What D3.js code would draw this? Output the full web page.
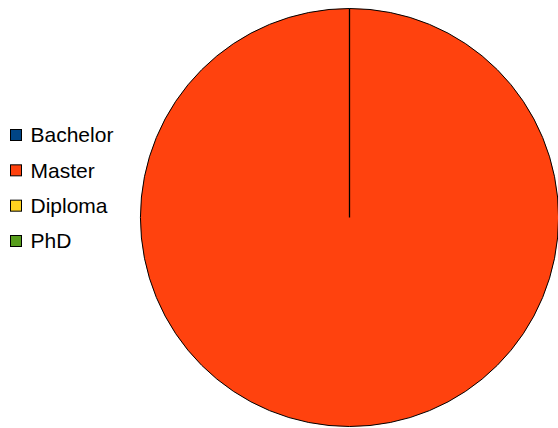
<!DOCTYPE html>
<html><head><meta charset="utf-8">
<script src="https://cdn.jsdelivr.net/npm/d3@7"></script>
<style>html,body{margin:0;padding:0;background:#fff;overflow:hidden}</style>
</head><body>
<svg id="chart" width="558" height="428"></svg>
<script>
const categories = ["Bachelor", "Master", "Diploma", "PhD"];
const values = [0, 100, 0, 0];
const colors = ["#004586", "#ff420e", "#ffd320", "#579d1c"];

const svg = d3.select("#chart");
const cx = 349.5, cy = 217.5, r = 209;

const pie = d3.pie().sort(null).value(d => d)(values);
const arc = d3.arc().innerRadius(0).outerRadius(r);
const color = d3.scaleOrdinal().domain(categories).range(colors);

const g = svg.append("g").attr("transform", `translate(${cx},${cy})`);
g.selectAll("path").data(pie.filter(d => d.value > 0)).join("path")
  .attr("d", arc)
  .attr("fill", d => color(categories[d.index]))
  .attr("stroke", "#000").attr("stroke-width", 1);
// radial boundary line of the full slice
pie.filter(d => d.value > 0).forEach(d => {
  g.append("line")
    .attr("x1", 0).attr("y1", 0)
    .attr("x2", r * Math.sin(d.startAngle)).attr("y2", -r * Math.cos(d.startAngle))
    .attr("stroke", "#000").attr("stroke-width", 1.3);
});

const y = d3.scalePoint().domain(categories).range([135, 241]);
const leg = svg.append("g");
const items = leg.selectAll("g").data(categories).join("g")
  .attr("transform", d => `translate(0,${y(d)})`);
items.append("rect").attr("x", 10.5).attr("y", -5.5).attr("width", 11).attr("height", 11)
  .attr("fill", d => color(d)).attr("stroke", "#000").attr("stroke-width", 1);
items.append("text").attr("x", 30.5).attr("y", 0).attr("dy", "0.35em")
  .attr("font-family", "Liberation Sans, Arial, sans-serif").attr("font-size", 21)
  .attr("fill", "#000").text(d => d);
</script>
</body></html>
